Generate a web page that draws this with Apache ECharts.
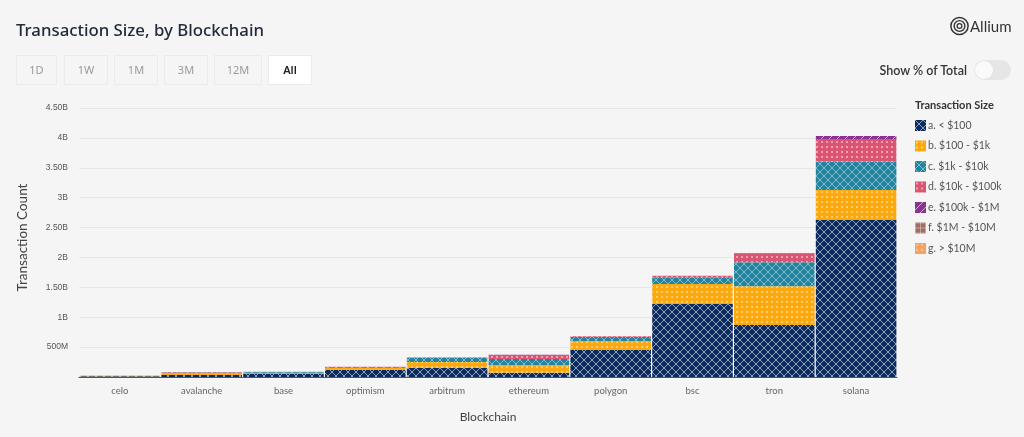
<!DOCTYPE html>
<html lang="en">
<head>
<meta charset="UTF-8">
<title>Transaction Size, by Blockchain</title>
<script src="https://cdn.jsdelivr.net/npm/echarts@6/dist/echarts.min.js"></script>
<style>
    html, body {margin: 0; padding: 0; background: #f5f5f5; overflow: hidden;}
    #main {position: absolute; left: 0; top: 0; width: 1024px; height: 437px;}
    .btn {position: absolute; top: 55px; height: 28px; line-height: 28px; text-align: center; box-sizing: content-box;
        border: 1px solid #ebebeb; font: 11px/28px "Noto Sans", sans-serif; color: #9a9a9a;}
    .btn.on {background: #fff; color: #222; font-weight: 600;}
    #pct {position: absolute; right: 57px; top: 62px; font: 600 12.5px/18px "Lato", sans-serif; color: #333;}
    #toggle {position: absolute; left: 974px; top: 60px; width: 37px; height: 20px; border-radius: 10px; background: #e6e6e6;}
    #knob {position: absolute; left: 1px; top: 1px; width: 18px; height: 18px; border-radius: 9px; background: #fafafa;}
    #brand {position: absolute; left: 970px; top: 16px; font: 15px/20px "Lato", sans-serif; color: #333;}
    #logo {position: absolute; left: 950px; top: 16px;}
</style>
</head>
<body>
<div id="main"></div>
<div class="btn" style="left:16px;width:39px">1D</div>
<div class="btn" style="left:64px;width:42px">1W</div>
<div class="btn" style="left:114px;width:42px">1M</div>
<div class="btn" style="left:164px;width:42px">3M</div>
<div class="btn" style="left:214px;width:46px">12M</div>
<div class="btn on" style="left:268px;width:42px">All</div>
<div id="pct">Show % of Total</div>
<div id="toggle"><div id="knob"></div></div>
<svg id="logo" width="19" height="20" viewBox="0 0 19 20" fill="none" stroke="#333">
    <circle cx="9.5" cy="10" r="8.6" stroke-width="1.5"/>
    <circle cx="9.5" cy="10" r="5.4" stroke-width="1.4"/>
    <circle cx="9.5" cy="10" r="2.4" stroke-width="1.3"/>
</svg>
<div id="brand">Allium</div>

<script type="text/javascript">
    // values in billions of transactions
    var chains = ['celo', 'avalanche', 'base', 'optimism', 'arbitrum', 'ethereum', 'polygon', 'bsc', 'tron', 'solana'];
    var sizeNames = ['a. < $100', 'b. $100 - $1k', 'c. $1k - $10k', 'd. $10k - $100k', 'e. $100k - $1M', 'f. $1M - $10M', 'g. > $10M'];
    var sizeA = [0.012, 0.035, 0.06, 0.12, 0.15, 0.07, 0.45, 1.22, 0.87, 2.625];
    var sizeB = [0.005, 0.03, 0.012, 0.035, 0.10, 0.13, 0.15, 0.335, 0.65, 0.505];
    var sizeC = [0.004, 0.012, 0.012, 0.012, 0.07, 0.10, 0.07, 0.115, 0.40, 0.47];
    var sizeD = [0.001, 0.005, 0.005, 0.005, 0.012, 0.07, 0.012, 0.025, 0.15, 0.38];
    var sizeE = [0, 0, 0, 0, 0, 0.003, 0, 0, 0.005, 0.05];
    var sizeF = [0, 0, 0, 0, 0, 0, 0, 0, 0, 0];
    var sizeG = [0, 0, 0, 0, 0, 0, 0, 0, 0, 0];
    var yTickLabels = ['', '500M', '1B', '1.50B', '2B', '2.50B', '3B', '3.50B', '4B', '4.50B'];

    // small tiles for the bar fills
    function tile(size, bg, draw) {
        var c = document.createElement('canvas');
        c.width = size;
        c.height = size;
        var g = c.getContext('2d');
        g.fillStyle = bg;
        g.fillRect(0, 0, size, size);
        draw(g, size);
        return c;
    }
    function cross(bg, line) {
        return tile(8, bg, function (g, s) {
            g.strokeStyle = line;
            g.lineWidth = 0.8;
            g.beginPath();
            g.moveTo(0, 0); g.lineTo(s, s);
            g.moveTo(s, 0); g.lineTo(0, s);
            g.stroke();
        });
    }
    function dots(bg, dot) {
        return tile(5, bg, function (g) {
            g.fillStyle = dot;
            g.fillRect(1, 1, 2, 2);
        });
    }
    function grid(bg, line) {
        return tile(5, bg, function (g, s) {
            g.fillStyle = line;
            g.fillRect(0, 0, s, 1);
            g.fillRect(0, 0, 1, s);
        });
    }
    function stripes(bg, line) {
        return tile(8, bg, function (g, s) {
            g.strokeStyle = line;
            g.lineWidth = 1;
            g.beginPath();
            g.moveTo(0, s); g.lineTo(s, 0);
            g.moveTo(-1, 1); g.lineTo(1, -1);
            g.moveTo(s - 1, s + 1); g.lineTo(s + 1, s - 1);
            g.stroke();
        });
    }
    var fills = [
        cross('#0b2a5e', 'rgba(255,255,255,.7)'),
        dots('#fba90f', 'rgba(255,255,255,.42)'),
        cross('#23849f', 'rgba(255,255,255,.55)'),
        dots('#db5472', 'rgba(255,255,255,.45)'),
        stripes('#8b3391', 'rgba(255,255,255,.6)'),
        grid('#a06f62', 'rgba(255,255,255,.35)'),
        dots('#f4a366', 'rgba(255,255,255,.3)')
    ];
    var sizeData = [sizeA, sizeB, sizeC, sizeD, sizeE, sizeF, sizeG];

    var myChart = echarts.init(document.getElementById('main'));
    var series = [];
    for (var i = 0; i < sizeNames.length; i++) {
        series.push({
            name: sizeNames[i],
            type: 'bar',
            stack: 'total',
            barCategoryGap: '1.5%',
            data: sizeData[i],
            itemStyle: {color: {image: fills[i], repeat: 'repeat'}},
            silent: true
        });
    }
    var option = {
        backgroundColor: '#f5f5f5',
        animation: false,
        title: [
            {text: 'Transaction Size, by Blockchain', left: 11, top: 18,
                textStyle: {fontFamily: 'Noto Sans', fontSize: 16.8, fontWeight: 500, color: '#232b3a'}},
            {text: 'Transaction Size', left: 910, top: 95,
                textStyle: {fontFamily: 'Lato', fontSize: 11, fontWeight: 'bold', color: '#333'}}
        ],
        legend: {
            orient: 'vertical',
            left: 910,
            top: 115,
            itemWidth: 11,
            itemHeight: 11,
            itemGap: 9.5,
            icon: 'rect',
            selectedMode: false,
            textStyle: {fontFamily: 'Lato', fontSize: 10.5, color: '#555', padding: [0, 0, 0, -3]},
            data: sizeNames
        },
        grid: {left: 79, right: 127, top: 108, bottom: 60},
        xAxis: {
            type: 'category',
            data: chains,
            name: 'Blockchain',
            nameLocation: 'middle',
            nameGap: 34,
            nameTextStyle: {fontFamily: 'Lato', fontSize: 12, color: '#444'},
            axisLine: {lineStyle: {color: '#555'}},
            axisTick: {alignWithLabel: true, length: 7, lineStyle: {color: '#777'}},
            axisLabel: {fontFamily: 'Lato', fontSize: 9.5, color: '#666', margin: 9, interval: 0}
        },
        yAxis: {
            type: 'value',
            min: 0,
            max: 4.5,
            interval: 0.5,
            name: 'Transaction Count',
            nameLocation: 'middle',
            nameGap: 49,
            nameTextStyle: {fontFamily: 'Lato', fontSize: 13.5, color: '#444', padding: [0, 0, 0, 10]},
            axisLine: {show: false},
            axisTick: {show: false},
            splitLine: {lineStyle: {color: '#e6e6e6'}},
            axisLabel: {
                fontFamily: 'Liberation Sans',
                fontSize: 8.5,
                color: '#555',
                margin: 11,
                formatter: function (v, idx) { return yTickLabels[idx]; }
            }
        },
        series: series
    };
    myChart.setOption(option);
</script>
</body>
</html>
